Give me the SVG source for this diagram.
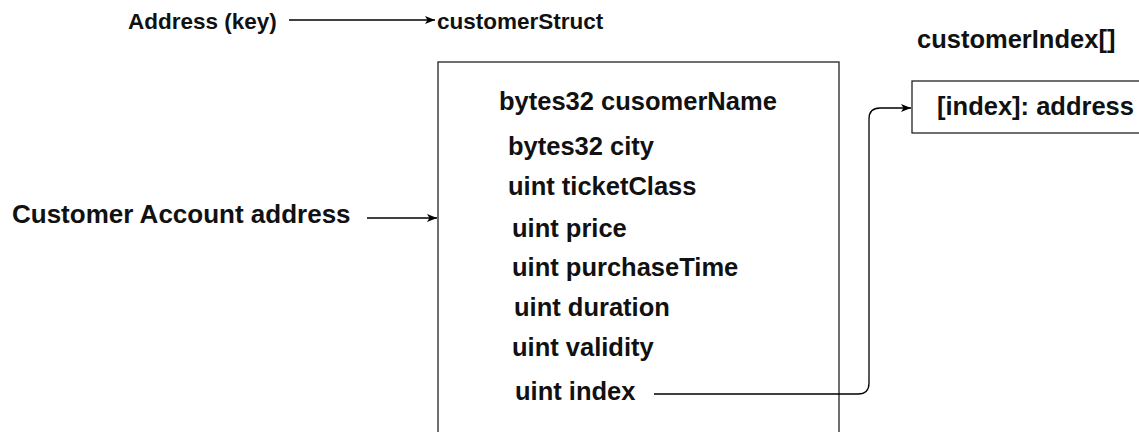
<svg xmlns="http://www.w3.org/2000/svg" width="1139" height="432" viewBox="0 0 1139 432">
<style>
text{font-family:"Liberation Sans",Arial,Helvetica,sans-serif;font-weight:bold;fill:#111}
.s{font-size:22.5px}
.m{font-size:25.5px}
.l{font-size:26px}
.box{fill:#fff;stroke:#222;stroke-width:1.3}
.edge{fill:none;stroke:#000;stroke-width:1.3}
</style>
<defs>
<marker id="arr" viewBox="0 0 10 8" refX="10" refY="4" markerWidth="10" markerHeight="8" markerUnits="userSpaceOnUse" orient="auto">
<path d="M0 0 L10 4 L0 8 L2.5 4 Z" fill="#000"/>
</marker>
</defs>
<rect width="1139" height="432" fill="#fff"/>
<g id="address-key"><text class="s" x="128" y="29">Address (key)</text></g>
<g id="customer-struct-title"><text class="s" x="437" y="29">customerStruct</text></g>
<g id="customer-account"><text class="l" x="12" y="223">Customer Account address</text></g>
<g id="customer-index-title"><text class="m" x="917" y="48">customerIndex[]</text></g>
<g id="struct-box">
<rect class="box" x="438" y="62" width="401" height="390"/>
<text class="m" x="499" y="110">bytes32 cusomerName</text>
<text class="m" x="508" y="155">bytes32 city</text>
<text class="m" x="508" y="195">uint ticketClass</text>
<text class="m" x="512" y="237">uint price</text>
<text class="m" x="512" y="276">uint purchaseTime</text>
<text class="m" x="514" y="316">uint duration</text>
<text class="m" x="512" y="356">uint validity</text>
<text class="m" x="515" y="400">uint index</text>
</g>
<g id="index-box">
<rect class="box" x="912" y="81" width="240" height="52"/>
<text class="m" x="937" y="115">[index]: address</text>
</g>
<g id="connectors">
<path class="edge" d="M289 20 H435" marker-end="url(#arr)"/>
<path class="edge" d="M367 218 H437" marker-end="url(#arr)"/>
<path class="edge" d="M654 394 H858 Q869 394 869 383 V119 Q869 108 880 108 H911" marker-end="url(#arr)"/>
</g>
</svg>
